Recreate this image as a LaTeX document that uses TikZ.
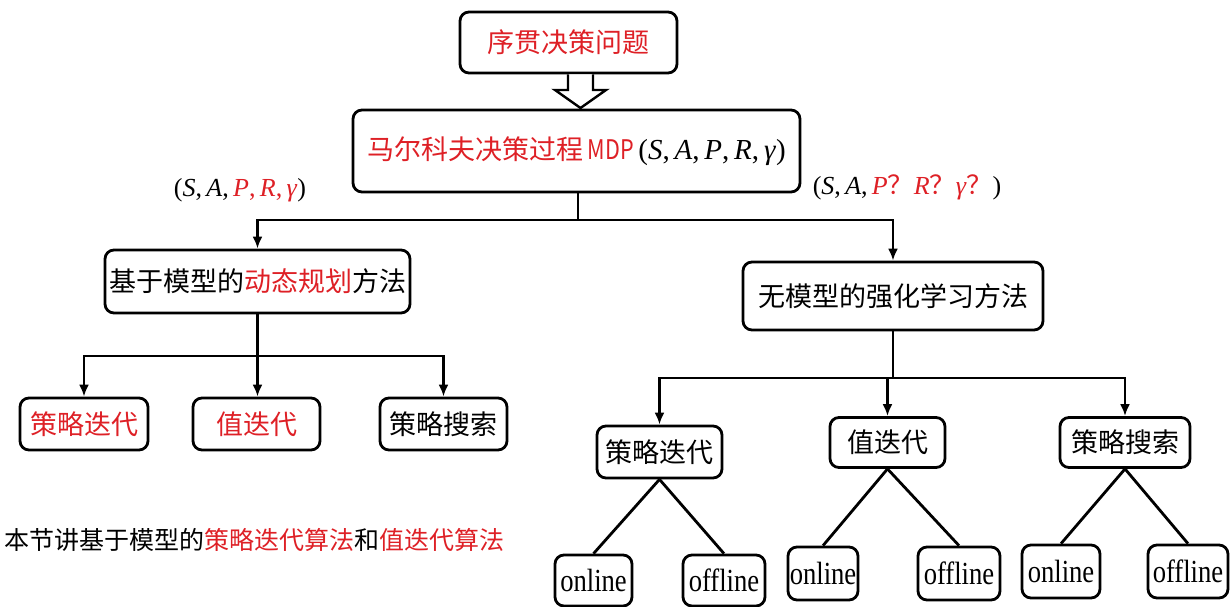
\documentclass[tikz,border=0pt]{standalone}
\usepackage{fontspec}
\usepackage{graphicx}
\setmainfont{Liberation Serif}
\newfontfamily\cjk{Noto Sans CJK SC}
\newfontfamily\mdpf[FakeStretch=0.8]{Noto Sans CJK SC}
\usetikzlibrary{arrows.meta}
\definecolor{myred}{RGB}{222,32,38}
\newcommand\mv[1]{\textit{#1}}
\newcommand\tallword[1]{\scalebox{0.95}[1.15]{#1}}
\tikzset{
  box/.style={draw, line width=2.8pt, rounded corners=9pt, inner sep=0pt, align=center},
  cjkfont/.style={font=\cjk\fontsize{27}{31}\selectfont},
  latfont/.style={font=\fontsize{28}{32}\selectfont},
  conn/.style={line width=2.8pt},
  arr/.style={conn, -{Latex[length=12pt,width=10pt]}},
}
\begin{document}
\begin{tikzpicture}[x=1pt,y=-1pt]
\useasboundingbox (0,0) rectangle (1230,606);
% top
\node[box, cjkfont, text=myred, minimum width=217pt, minimum height=61pt] (top) at (568.5,42.5) {序贯决策问题};
\node[box, cjkfont, minimum width=447pt, minimum height=82pt] (mdp) at (576.5,151)
  {\textcolor{myred}{马尔科夫决策过程\,{\mdpf MDP}}\,{\rmfamily\fontsize{29}{32}\selectfont(\mv{S},\,\mv{A},\,\mv{P},\,\mv{R},\,\mv{γ})}};
% hollow arrow
\draw[line width=2.4pt, fill=white, line join=miter]
  (top.south -| 568,0) -- (568,90) -- (555,90) -- (580.5,108) -- (606,90) -- (593,90) -- (top.south -| 593,0);
% labels
\node[font=\fontsize{26}{30}\selectfont] (lab1) at (240,190) {(\mv{S},\,\mv{A},\,\textcolor{myred}{\mv{P},\,\mv{R},\,\mv{γ}})};
\node[font=\fontsize{26}{30}\selectfont] (lab2) at (907,187) {(\mv{S},\,\mv{A},\,\textcolor{myred}{\mv{P}{\cjk？}\mv{R}{\cjk？}\mv{γ}{\cjk？}})};
% level 2
\node[box, cjkfont, minimum width=305pt, minimum height=63pt] (dp) at (257.5,281.5) {基于模型的\textcolor{myred}{动态规划}方法};
\node[box, cjkfont, minimum width=300pt, minimum height=68pt] (rl) at (893,296) {无模型的强化学习方法};
\coordinate (j1) at (578,220);
\draw[conn] (mdp.south -| j1) -- (j1);
\draw[arr] (j1) -| (dp.north);
\draw[arr] (j1) -| (rl.north);
% left level 3
\node[box, cjkfont, text=myred, minimum width=128pt, minimum height=52pt] (l1) at (84,424) {策略迭代};
\node[box, cjkfont, text=myred, minimum width=127pt, minimum height=52pt] (l2) at (256.5,424) {值迭代};
\node[box, cjkfont, minimum width=127pt, minimum height=52pt] (l3) at (443.5,424) {策略搜索};
\coordinate (j2) at (257.5,356);
\draw[conn] (dp.south) -- (j2);
\draw[arr] (j2) -| (l1.north);
\draw[arr] (j2) -- (l2.north -| j2);
\draw[arr] (j2) -| (l3.north);
% right level 3
\node[box, cjkfont, minimum width=125pt, minimum height=52pt] (r1) at (659.5,452) {策略迭代};
\node[box, cjkfont, minimum width=115pt, minimum height=50pt] (r2) at (887.5,442.5) {值迭代};
\node[box, cjkfont, minimum width=130pt, minimum height=50pt] (r3) at (1125,442.5) {策略搜索};
\coordinate (j3) at (893,378);
\draw[conn] (rl.south) -- (j3);
\draw[arr] (j3) -| (r1.north);
\draw[arr] (j3) -| (r2.north);
\draw[arr] (j3) -| (r3.north);
% online / offline
\node[box, latfont, minimum width=77pt, minimum height=51pt] (r1a) at (593.5,580.5) {\tallword{online}};
\node[box, latfont, minimum width=82pt, minimum height=51pt] (r1b) at (724,580.5) {\tallword{offline}};
\node[box, latfont, minimum width=70pt, minimum height=53pt] (r2a) at (823,573.5) {\tallword{online}};
\node[box, latfont, minimum width=82pt, minimum height=53pt] (r2b) at (959,573.5) {\tallword{offline}};
\node[box, latfont, minimum width=78pt, minimum height=53pt] (r3a) at (1061,571.5) {\tallword{online}};
\node[box, latfont, minimum width=80pt, minimum height=53pt] (r3b) at (1188,571.5) {\tallword{offline}};
\foreach \p/\c in {r1/r1a, r1/r1b, r2/r2a, r2/r2b, r3/r3a, r3/r3b}
  \draw[conn] (\p.south) -- (\c.north);
% note
\node[font=\cjk\fontsize{25}{30}\selectfont, anchor=west, inner sep=0pt] (note) at (4,540) {本节讲基于模型的\textcolor{myred}{策略迭代算法}和\textcolor{myred}{值迭代算法}};
\end{tikzpicture}
\end{document}
